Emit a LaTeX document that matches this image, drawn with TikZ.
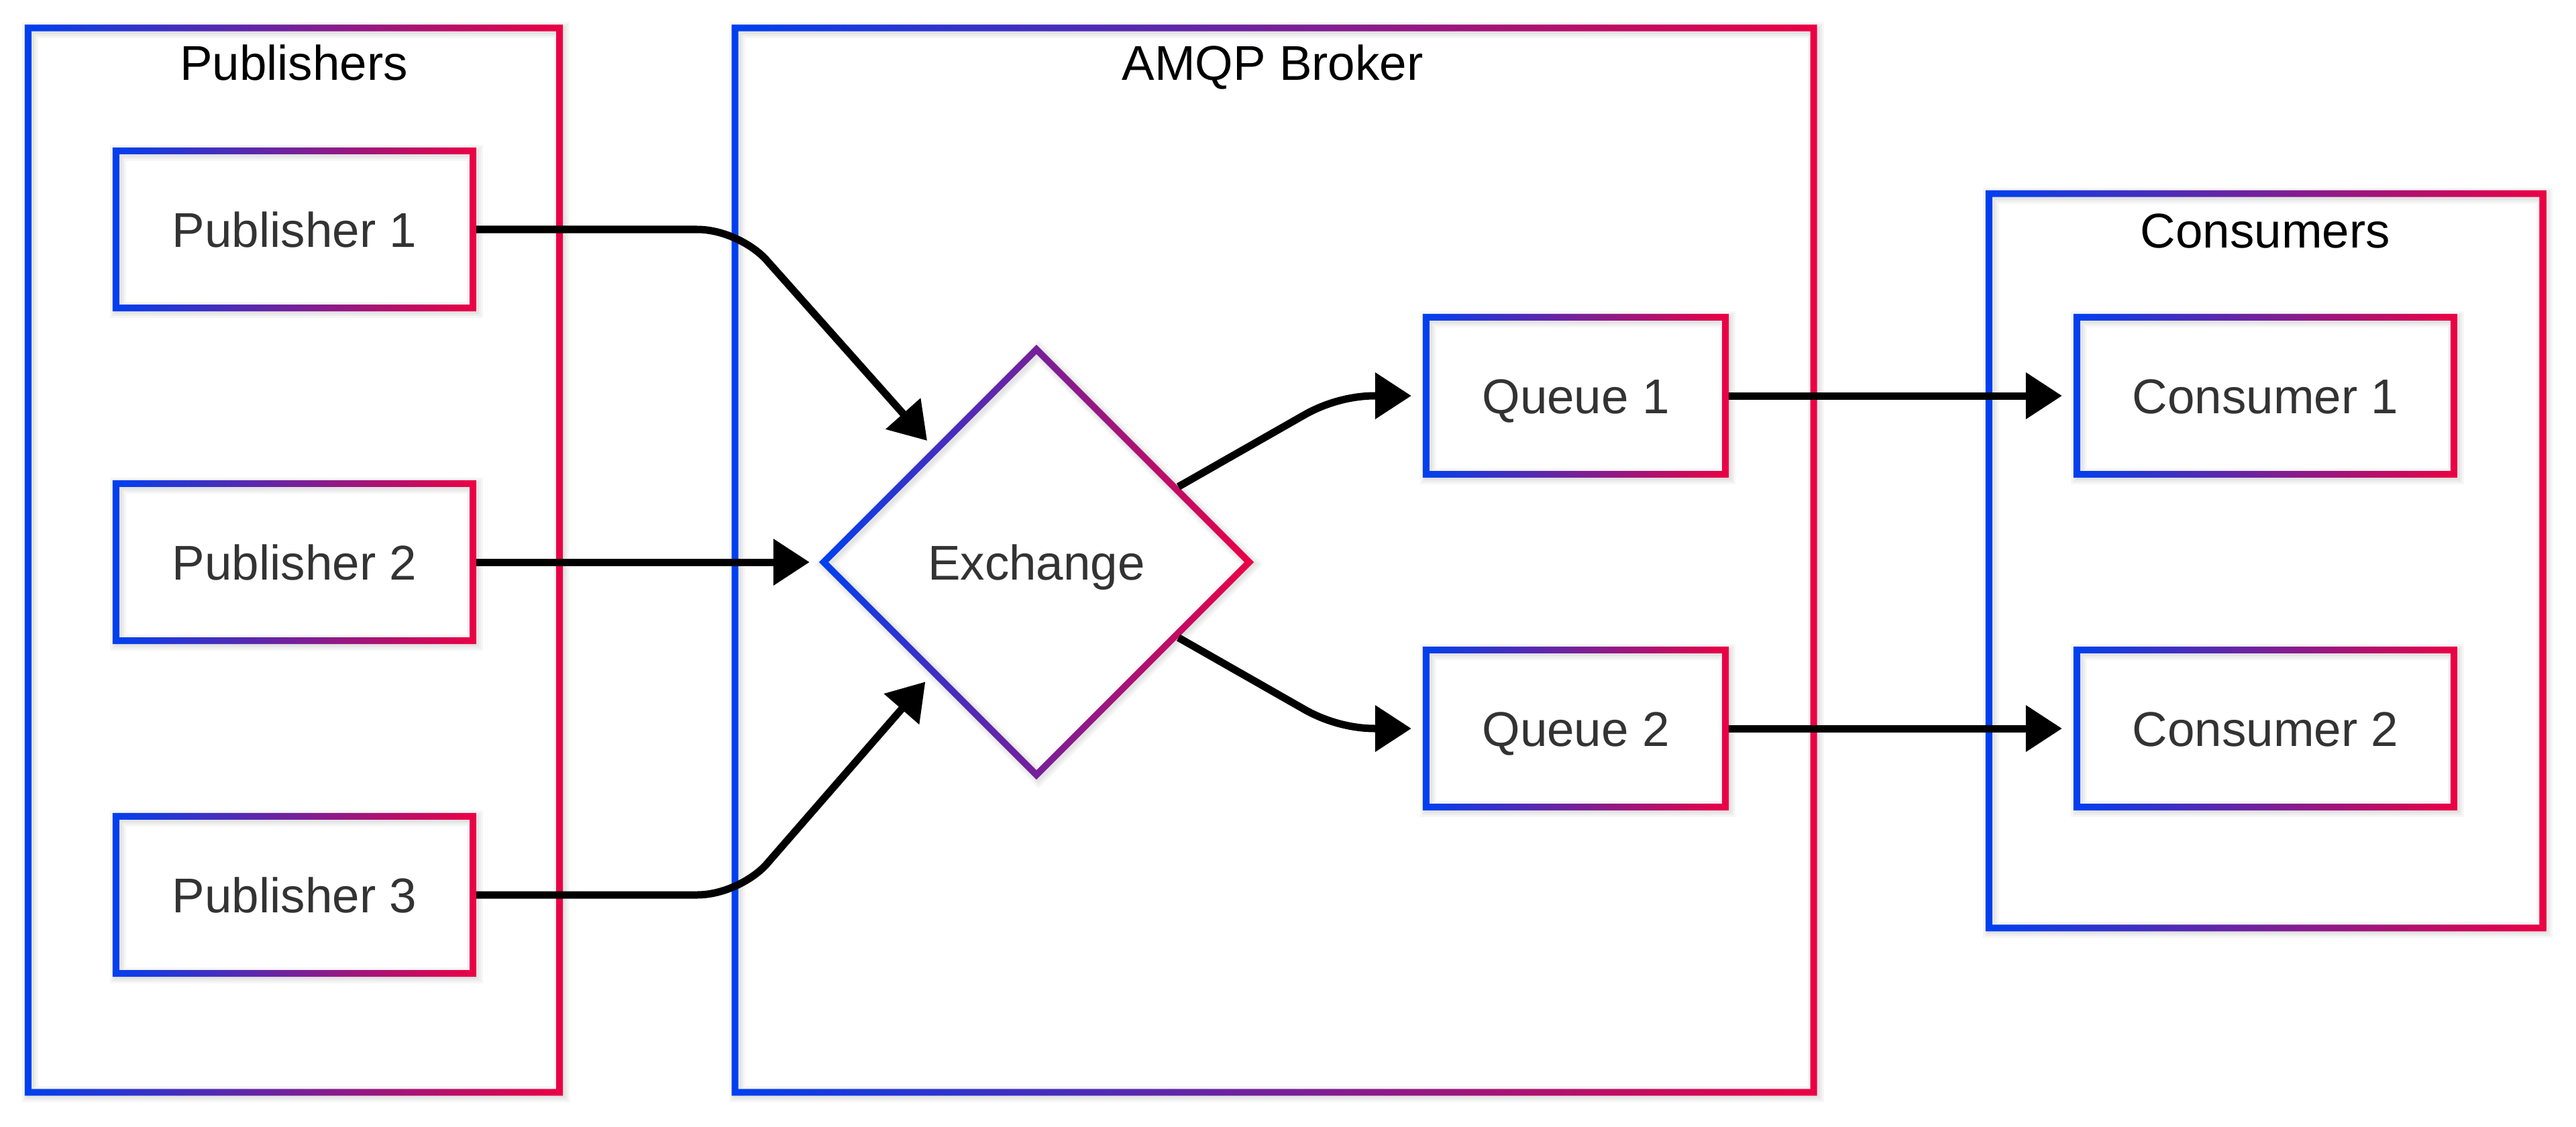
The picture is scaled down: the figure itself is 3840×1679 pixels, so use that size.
\documentclass[tikz,border=0pt]{standalone}
\usepackage{fontspec}
\setmainfont{Liberation Sans}
\usetikzlibrary{arrows.meta,shapes.geometric}
\definecolor{gb}{RGB}{0,64,240}
\definecolor{gr}{RGB}{236,0,68}
\definecolor{txt}{RGB}{51,51,51}
\newcommand\rframe[1]{%
  \foreach \w in {0.12,0.18,0.24}{\draw[black,opacity=0.035,line width=\w cm] ([shift={(0.08cm,-0.08cm)}]#1.north west) rectangle ([shift={(-0.02cm,0.02cm)}]#1.south east);}
  \shade[left color=gb,right color=gr,even odd rule] (#1.north west) rectangle (#1.south east) ([shift={(0.1cm,-0.1cm)}]#1.north west) rectangle ([shift={(-0.1cm,0.1cm)}]#1.south east);}
\begin{document}
\begin{tikzpicture}[x=0.01cm,y=-0.01cm,
  lbl/.style={font=\fontsize{20.7pt}{25pt}\selectfont, text height=14.8pt, text depth=0pt},
  box/.style={lbl, rectangle, inner sep=0pt, outer sep=0pt, minimum height=2.44cm, text=txt},
  pubbox/.style={box, minimum width=5.42cm},
  qbox/.style={box, minimum width=4.56cm},
  cbox/.style={box, minimum width=5.72cm},
  cluster/.style={rectangle, inner sep=0pt, outer sep=0pt},
  ctitle/.style={font=\fontsize{20.7pt}{25pt}\selectfont, text=black, anchor=base, inner sep=0pt},
  arr/.style={line width=0.11cm, -{Triangle[length=0.54cm,width=0.67cm]}}]
\useasboundingbox (0,0) rectangle (3840,1679);
\fill[white] (0,0) rectangle (3840,1679);
% clusters
\node[cluster, minimum width=8.02cm, minimum height=15.96cm] (pubs) at (438,835) {};
\node[cluster, minimum width=16.17cm, minimum height=15.96cm] (broker) at (1899.5,835) {};
\node[cluster, minimum width=8.35cm, minimum height=11.04cm] (cons) at (3377.5,836) {};
\rframe{pubs}
\rframe{broker}
\rframe{cons}
\node[ctitle] (tpubs) at (438,120) {Publishers};
\node[ctitle] (tbroker) at (1897,120) {AMQP Broker};
\node[ctitle] (tcons) at (3377,369) {Consumers};
% nodes
\node[pubbox] (p1) at (439,342) {Publisher 1};
\node[pubbox] (p2) at (439,838) {Publisher 2};
\node[pubbox] (p3) at (439,1334) {Publisher 3};
\node[qbox] (q1) at (2349,590) {Queue 1};
\node[qbox] (q2) at (2349,1086) {Queue 2};
\node[cbox] (c1) at (3377,590) {Consumer 1};
\node[cbox] (c2) at (3377,1086) {Consumer 2};
\node[lbl, shape=diamond, aspect=1, minimum width=6.48cm, minimum height=6.48cm, inner sep=0pt, outer sep=0pt, text=txt] (ex) at (1545,838) {Exchange};
\rframe{p1}\rframe{p2}\rframe{p3}
\rframe{q1}\rframe{q2}
\rframe{c1}\rframe{c2}
\foreach \w in {0.12,0.18,0.24}{\draw[black,opacity=0.035,line width=\w cm,line join=miter] ([shift={(0.03cm,-0.1007cm)}]ex.north) -- ([shift={(-0.0407cm,-0.03cm)}]ex.east) -- ([shift={(0.03cm,0.0407cm)}]ex.south) -- ([shift={(0.1007cm,-0.03cm)}]ex.west) -- cycle;}
\shade[left color=gb,right color=gr,even odd rule] (ex.north) -- (ex.east) -- (ex.south) -- (ex.west) -- cycle
  ([yshift=-0.1414cm]ex.north) -- ([xshift=-0.1414cm]ex.east) -- ([yshift=0.1414cm]ex.south) -- ([xshift=0.1414cm]ex.west) -- cycle;
% connectors
\draw[arr, shorten >=0.14cm] (p1.east) -- (1039,342) .. controls (1080,342) and (1122,365) .. (1142,387) -- (ex.132.2);
\draw[arr, shorten >=0.14cm] (p2.east) -- (ex.west);
\draw[arr, shorten >=0.14cm] (p3.east) -- (1039,1334) .. controls (1080,1334) and (1122,1311) .. (1142,1289) -- (ex.227.8);
\draw[arr, shorten >=0.17cm] (ex.28.7) -- (1947,617) .. controls (1978,600) and (2015,590) .. (2050,590) -- (q1.west);
\draw[arr, shorten >=0.17cm] (ex.-28.7) -- (1947,1059) .. controls (1978,1076) and (2015,1086) .. (2050,1086) -- (q2.west);
\draw[arr, shorten >=0.17cm] (q1.east) -- (c1.west);
\draw[arr, shorten >=0.17cm] (q2.east) -- (c2.west);
\end{tikzpicture}
\end{document}
